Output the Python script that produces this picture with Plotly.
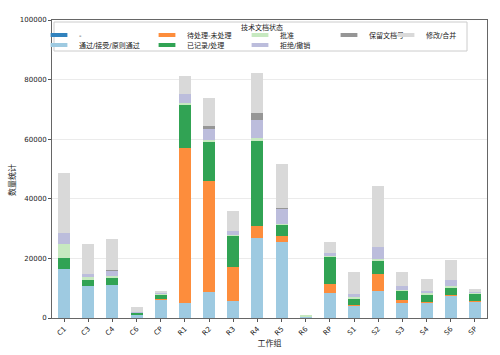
import plotly.graph_objects as go

categories = ["C1","C3","C4","C6","CP","R1","R2","R3","R4","R5","R6","RP","S1","S2","S3","S4","S6","SP"]

status_names = ["-", "通过/接受/原则通过", "待处理-未处理", "已记录/处理", "批准", "拒绝/撤销", "保留文档号", "修改/合并"]

v_dash     = [0]*18
v_pass     = [16500,10800,11100,1100,6300,5200,8800,5700,26800,25500,400,8400,4100,9100,5100,5300,7400,5700]
v_pending  = [0,0,0,0,100,51700,37200,11400,4200,2100,0,3000,300,5800,1000,200,400,100]
v_recorded = [3800,2100,2200,600,1500,14700,13000,10500,28300,3800,200,9100,2200,4200,3100,2400,2400,2300]
v_approved = [4600,800,800,200,300,400,900,300,1000,300,300,300,400,700,300,400,400,400]
v_rejected = [3500,1100,1700,200,200,3100,3500,1300,6000,5000,0,1100,1100,4000,1400,700,2000,300]
v_reserved = [0,0,200,0,0,0,900,0,2500,300,0,0,0,0,0,0,0,0]
v_modified = [20300,9900,10400,1700,500,6200,9600,6700,13500,14600,0,3500,7200,20600,4700,4100,6700,900]

series = [v_dash, v_pass, v_pending, v_recorded, v_approved, v_rejected, v_reserved, v_modified]
colors = ["#3182bd", "#9ecae1", "#fd8d3c", "#31a354", "#c7e9c0", "#bcbddc", "#969696", "#d9d9d9"]

y_ticks = [0, 20000, 40000, 60000, 80000, 100000]

W, H = 500, 355
L, R, T, B = 52, 13, 20, 37
pw, ph = W - L - R, H - T - B

def px2x(px):
    return (px - L) / pw

def py2y(py):
    return (H - B - py) / ph

# legend slots in container pixels (swatch center x, row center y)
slots = [(63, 35), (63, 45), (171, 35), (171, 45), (264, 35), (264, 45), (353, 35), (410, 35)]

FONT = "DejaVu Sans, Noto Sans CJK SC, sans-serif"

fig = go.Figure()
for name, vals, col in zip(status_names, series, colors):
    fig.add_trace(go.Bar(x=categories, y=vals, name=name, marker_color=col,
                         marker_line_width=0, width=0.5, showlegend=False))

# legend-only entries (no data drawn)
layout_legends = {}
for i, (name, col) in enumerate(zip(status_names, colors)):
    lg = "legend" if i == 0 else f"legend{i+1}"
    fig.add_trace(go.Scatter(x=[None], y=[None], name=name, mode="markers",
                             marker=dict(symbol="line-ew", size=12, color=col,
                                         line=dict(color=col, width=4)),
                             legend=lg, hoverinfo="skip"))
    sx, sy = slots[i]
    layout_legends[lg] = dict(
        xref="container", yref="container",
        x=(sx - 24) / W, y=1 - sy / H, xanchor="left", yanchor="middle",
        bgcolor="rgba(0,0,0,0)", borderwidth=0,
        font=dict(size=7, family=FONT, color="#222"),
        itemclick=False, itemdoubleclick=False,
    )

fig.update_layout(
    width=W, height=H,
    margin=dict(l=L, r=R, t=T, b=B, autoexpand=False),
    paper_bgcolor="white", plot_bgcolor="white",
    barmode="stack",
    showlegend=True,
    font=dict(family=FONT, size=7, color="#222"),
    **layout_legends,
)

fig.add_shape(type="rect", xref="paper", yref="paper",
              x0=px2x(54), x1=px2x(467), y0=py2y(51), y1=py2y(22),
              line=dict(color="#cccccc", width=1), fillcolor="white", layer="above")
fig.add_annotation(text="技术文档状态", xref="paper", yref="paper",
                   x=px2x(262), y=py2y(27), showarrow=False,
                   xanchor="center", yanchor="middle",
                   font=dict(size=7, family=FONT, color="#222"))
fig.add_annotation(text="数量统计", xref="paper", yref="paper",
                   x=px2x(12), y=py2y(180), showarrow=False, textangle=-90,
                   xanchor="center", yanchor="middle",
                   font=dict(size=8, family=FONT, color="#222"))

fig.update_xaxes(
    type="category", range=[-0.5, len(categories) - 0.5],
    tickangle=-45, ticks="outside", ticklen=3, tickcolor="#555",
    showline=True, linecolor="#666", linewidth=1, mirror=True,
    showgrid=False,
    tickfont=dict(size=7, family=FONT),
    title=dict(text="工作组", font=dict(size=8, family=FONT), standoff=4),
)
fig.update_yaxes(
    range=[0, 100000], tickvals=y_ticks, ticktext=[str(v) for v in y_ticks],
    ticks="outside", ticklen=3, tickcolor="#555",
    showline=True, linecolor="#666", linewidth=1, mirror=True,
    showgrid=True, gridcolor="#ebebeb", gridwidth=0.8,
    zeroline=False,
    tickfont=dict(size=7, family=FONT),
)

fig.write_html("out.html", config={"displayModeBar": False},
               post_script="document.body.style.margin='0';")
